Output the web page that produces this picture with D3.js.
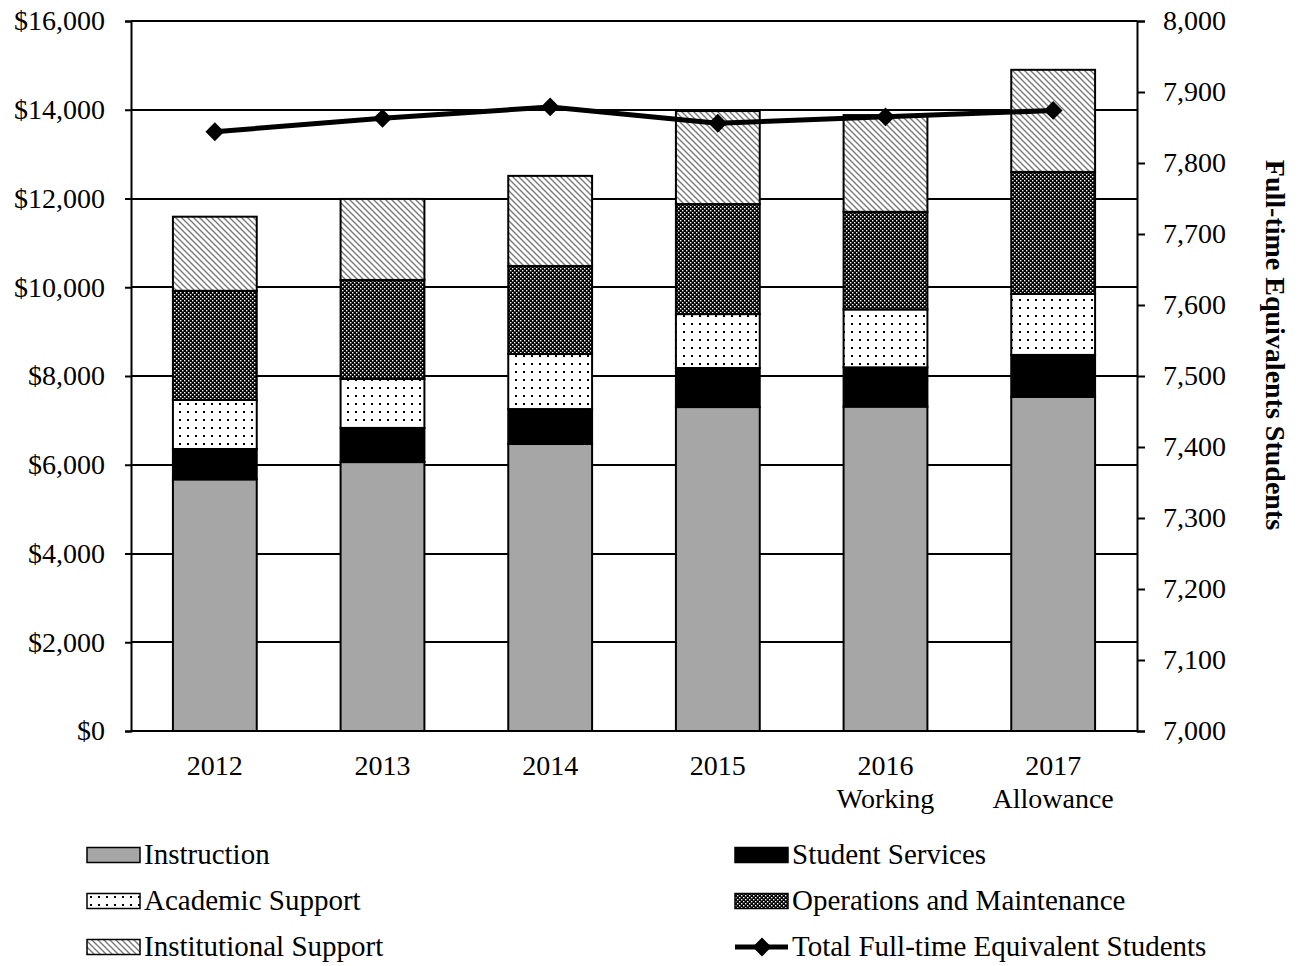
<!DOCTYPE html>
<html>
<head>
<meta charset="utf-8">
<script src="https://cdn.jsdelivr.net/npm/d3@7"></script>
<style>
  html, body { margin: 0; padding: 0; background: #fff; }
  svg { display: block; font-family: "Liberation Serif", "Times New Roman", serif; }
</style>
</head>
<body>
<svg id="chart" width="1299" height="966"></svg>
<script>
// Fiscal years (second line of the label, if any)
const years = ["2012", "2013", "2014", "2015", "2016", "2017"];
const yearNotes = ["", "", "", "", "Working", "Allowance"];

// Expenditure per FTE student by function (dollars)
const instruction          = [5670, 6060, 6470, 7300, 7310, 7530];
const studentServices      = [685, 770, 785, 880, 885, 945];
const academicSupport      = [1105, 1105, 1240, 1215, 1305, 1375];
const operationsMaintenance = [2460, 2230, 1985, 2480, 2200, 2750];
const institutionalSupport = [1670, 1825, 2030, 2095, 2180, 2300];

// Total full-time equivalent students (right axis)
const fteStudents = [7844, 7863, 7879, 7856, 7865, 7874];

// Axis ticks
const leftTicks = [0, 2000, 4000, 6000, 8000, 10000, 12000, 14000, 16000];
const rightTicks = [7000, 7100, 7200, 7300, 7400, 7500, 7600, 7700, 7800, 7900, 8000];

const seriesNames = ["Instruction", "Student Services", "Academic Support",
                     "Operations and Maintenance", "Institutional Support"];
const seriesValues = [instruction, studentServices, academicSupport,
                      operationsMaintenance, institutionalSupport];
const seriesFills = ["#a6a6a6", "#000000", "url(#pat-dots)", "url(#pat-check)", "url(#pat-hatch)"];
const lineName = "Total Full-time Equivalent Students";

const svg = d3.select("#chart");
const plot = { left: 131, right: 1137, top: 21, bottom: 731 };

// Fill patterns
const defs = svg.append("defs");
const dots = defs.append("pattern").attr("id", "pat-dots")
  .attr("patternUnits", "userSpaceOnUse").attr("width", 8).attr("height", 8);
dots.append("rect").attr("width", 8).attr("height", 8).attr("fill", "#fff");
dots.append("rect").attr("x", 3).attr("y", 3).attr("width", 2).attr("height", 2).attr("fill", "#000");

const check = defs.append("pattern").attr("id", "pat-check")
  .attr("patternUnits", "userSpaceOnUse").attr("width", 4).attr("height", 4);
check.append("rect").attr("width", 4).attr("height", 4).attr("fill", "#000");
check.append("rect").attr("x", 0).attr("y", 0).attr("width", 1.4).attr("height", 1.4).attr("fill", "#fff");
check.append("rect").attr("x", 2).attr("y", 2).attr("width", 1.4).attr("height", 1.4).attr("fill", "#fff");

const hatch = defs.append("pattern").attr("id", "pat-hatch")
  .attr("patternUnits", "userSpaceOnUse").attr("width", 6).attr("height", 6);
hatch.append("rect").attr("width", 6).attr("height", 6).attr("fill", "#fff");
hatch.append("path").attr("d", "M-1,-1 L7,7 M-4,2 L1,7 M2,-4 L7,1")
  .attr("stroke", "#7a7a7a").attr("stroke-width", 1.4);

// Scales
const x = d3.scaleBand().domain(years).range([plot.left, plot.right]).paddingInner(0.5).paddingOuter(0.25);
const y = d3.scaleLinear().domain([0, 16000]).range([plot.bottom, plot.top]);
const yR = d3.scaleLinear().domain([7000, 8000]).range([plot.bottom, plot.top]);

// Gridlines
svg.append("g").selectAll("line").data(leftTicks).join("line")
  .attr("x1", plot.left).attr("x2", plot.right)
  .attr("y1", d => Math.round(y(d))).attr("y2", d => Math.round(y(d)))
  .attr("stroke", "#000").attr("stroke-width", 2);

// Stacked bars
const rows = years.map((yr, i) => {
  const r = { year: yr };
  seriesNames.forEach((n, k) => { r[n] = seriesValues[k][i]; });
  return r;
});
const stacked = d3.stack().keys(seriesNames)(rows);
const barG = svg.append("g");
stacked.forEach((layer, k) => {
  barG.append("g").selectAll("rect").data(layer).join("rect")
    .attr("x", d => x(d.data.year))
    .attr("width", x.bandwidth())
    .attr("y", d => y(d[1]))
    .attr("height", d => y(d[0]) - y(d[1]))
    .attr("fill", seriesFills[k])
    .attr("stroke", "#000").attr("stroke-width", 2);
});

// Axes
const leftAxis = d3.axisLeft(y).tickValues(leftTicks).tickSize(6).tickPadding(20)
  .tickFormat(d => "$" + d3.format(",")(d));
const gL = svg.append("g").attr("transform", `translate(${plot.left},0)`).call(leftAxis);
const rightAxis = d3.axisRight(yR).tickValues(rightTicks).tickSize(8).tickPadding(18)
  .tickFormat(d3.format(","));
const gR = svg.append("g").attr("transform", `translate(${plot.right},0)`).call(rightAxis);
[gL, gR].forEach(g => {
  g.select(".domain").attr("stroke", "#000").attr("stroke-width", 2);
  g.selectAll(".tick line").attr("stroke", "#000").attr("stroke-width", 2);
  g.selectAll(".tick text").attr("font-size", 28).attr("font-family", "Liberation Serif").attr("fill", "#000");
});

// Baseline
svg.append("line").attr("x1", plot.left).attr("x2", plot.right)
  .attr("y1", plot.bottom).attr("y2", plot.bottom).attr("stroke", "#000").attr("stroke-width", 2);

// Category labels
const cat = svg.append("g").selectAll("text").data(years).join("text")
  .attr("x", d => x(d) + x.bandwidth() / 2)
  .attr("y", 775)
  .attr("text-anchor", "middle").attr("font-size", 28);
cat.append("tspan").text(d => d);
cat.append("tspan").attr("x", d => x(d) + x.bandwidth() / 2).attr("dy", 33)
  .text((d, i) => yearNotes[i]);

// Right axis title
svg.append("text")
  .attr("transform", `translate(1266,345) rotate(90)`)
  .attr("text-anchor", "middle").attr("font-size", 28).attr("font-weight", "bold")
  .text("Full-time Equivalents Students");

// FTE line with diamond markers
const cx = d => x(d) + x.bandwidth() / 2;
const line = d3.line().x((d, i) => cx(years[i])).y(d => yR(d));
svg.append("path").datum(fteStudents).attr("d", line)
  .attr("fill", "none").attr("stroke", "#000").attr("stroke-width", 5).attr("stroke-linejoin", "round");
const diamond = d3.symbol().type(d3.symbolDiamond2).size(225);
svg.append("g").selectAll("path").data(fteStudents).join("path")
  .attr("transform", (d, i) => `translate(${cx(years[i])},${yR(d)})`)
  .attr("d", diamond).attr("fill", "#000");

// Legend
const legendItems = [
  { name: "Instruction", fill: seriesFills[0], col: 0, row: 0 },
  { name: "Student Services", fill: seriesFills[1], col: 1, row: 0 },
  { name: "Academic Support", fill: seriesFills[2], col: 0, row: 1 },
  { name: "Operations and Maintenance", fill: seriesFills[3], col: 1, row: 1 },
  { name: "Institutional Support", fill: seriesFills[4], col: 0, row: 2 },
  { name: lineName, fill: null, col: 1, row: 2 }
];
const colX = [87, 735];
const rowY = [855, 901, 947];
const leg = svg.append("g").selectAll("g").data(legendItems).join("g")
  .attr("transform", d => `translate(${colX[d.col]},${rowY[d.row]})`);
leg.filter(d => d.fill).append("rect")
  .attr("x", 0).attr("y", -7.5).attr("width", 53).attr("height", 15)
  .attr("fill", d => d.fill).attr("stroke", "#000").attr("stroke-width", 1.5);
const lineLeg = leg.filter(d => !d.fill);
lineLeg.append("line").attr("x1", 0).attr("x2", 53).attr("y1", 0).attr("y2", 0)
  .attr("stroke", "#000").attr("stroke-width", 5);
lineLeg.append("path").attr("transform", "translate(27,0)").attr("d", diamond).attr("fill", "#000");
leg.append("text").attr("x", 57).attr("y", 9).attr("font-size", 29).text(d => d.name);
</script>
</body>
</html>
